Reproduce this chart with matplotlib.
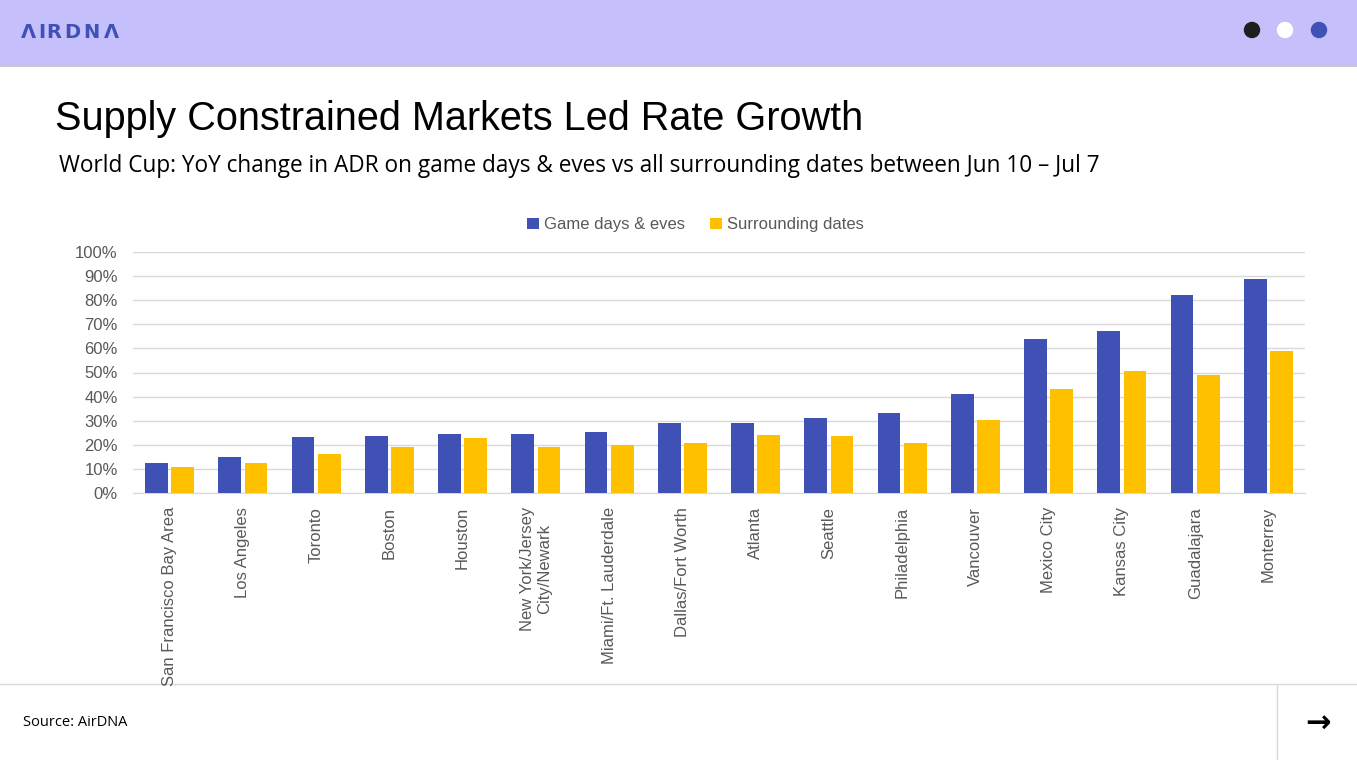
import numpy as np
import matplotlib.pyplot as plt
from matplotlib.patches import Rectangle, Circle

markets = ["San Francisco Bay Area", "Los Angeles", "Toronto", "Boston", "Houston",
           "New York/Jersey\nCity/Newark", "Miami/Ft. Lauderdale", "Dallas/Fort Worth",
           "Atlanta", "Seattle", "Philadelphia", "Vancouver", "Mexico City",
           "Kansas City", "Guadalajara", "Monterrey"]
game_days = [12.6, 15.1, 23.4, 23.8, 24.6, 24.6, 25.4, 29.2, 29.2, 31.3, 33.3,
             41.2, 64.0, 67.4, 82.3, 88.9]
surrounding = [10.9, 12.6, 16.3, 19.2, 23.0, 19.2, 20.1, 20.9, 24.2, 23.8, 20.9,
               30.4, 43.3, 50.8, 49.1, 59.1]
yticks = list(range(0, 101, 10))

BLUE = "#3F51B5"
GOLD = "#FFC000"
W, H = 1357, 760

fig = plt.figure(figsize=(W / 100, H / 100), dpi=100)
fig.patch.set_facecolor("white")

# page decoration in pixel coordinates
bg = fig.add_axes([0, 0, 1, 1])
bg.set_xlim(0, W)
bg.set_ylim(H, 0)
bg.axis("off")
bg.add_patch(Rectangle((0, 0), W, 65, color="#C5BFFB", zorder=0))
bg.plot([0, W], [65.5, 65.5], color="#C8C8C8", lw=1.5)
# logo, letters spaced out by hand
for cx, ch in zip([28, 42, 53.5, 72, 91, 111], "ΛIRDNΛ"):
    bg.text(cx, 33, ch, color=BLUE, fontsize=14, fontweight="bold",
            family="DejaVu Sans", va="center", ha="center")
for cx, col in [(1252, "#1E1E1E"), (1285, "white"), (1319, BLUE)]:
    bg.add_patch(Circle((cx, 30), 7.5, color=col))
bg.text(55, 119, "Supply Constrained Markets Led Rate Growth", fontsize=28.5,
        family="Liberation Sans", color="black", va="center", ha="left")
bg.text(59, 166, "World Cup: YoY change in ADR on game days & eves vs all surrounding dates between Jun 10 \u2013 Jul 7",
        fontsize=16.3, family="Open Sans", color="black", va="center", ha="left")
bg.plot([0, W], [684, 684], color="#D9D9D9", lw=1)
bg.plot([1277, 1277], [685, H], color="#D9D9D9", lw=1)
bg.text(23, 722, "Source: AirDNA", fontsize=10.5, family="Open Sans", va="center", ha="left")
bg.text(1318, 724, "\u2192", fontsize=22, fontweight="bold", family="DejaVu Sans",
        va="center", ha="center")

# chart
ax = fig.add_axes([133 / W, (H - 493) / H, (1305 - 133) / W, (493 - 252) / H])
x = np.arange(len(markets))
bw = 0.31
ax.bar(x - bw / 2 - 0.025, game_days, bw, color=BLUE, label="Game days & eves", zorder=3)
ax.bar(x + bw / 2 + 0.025, surrounding, bw, color=GOLD, label="Surrounding dates", zorder=3)
ax.set_xlim(-0.5, len(markets) - 0.5)
ax.set_ylim(0, 100)
ax.set_yticks(yticks)
ax.set_yticklabels([f"{v}%" for v in yticks])
ax.grid(axis="y", color="#D9D9D9", lw=1, zorder=0)
for s in ["top", "right", "left"]:
    ax.spines[s].set_visible(False)
ax.spines["bottom"].set_color("#D9D9D9")
ax.tick_params(axis="both", length=0, labelcolor="#595959", labelsize=12)
ax.tick_params(axis="y", pad=11)
ax.set_xticks(x)
ax.set_xticklabels(markets, rotation=90, va="top", ha="center", multialignment="center")
ax.tick_params(axis="x", pad=10)
for lab in ax.get_xticklabels() + ax.get_yticklabels():
    lab.set_family("Liberation Sans")

leg = ax.legend(loc="lower center", bbox_to_anchor=(0.48, 1.02), ncol=2, frameon=False,
                prop={"family": "Liberation Sans", "size": 12}, handlelength=0.7,
                handleheight=0.7, handletextpad=0.3, columnspacing=1.5)
for t in leg.get_texts():
    t.set_color("#595959")

fig.savefig("out.png", dpi=100)
